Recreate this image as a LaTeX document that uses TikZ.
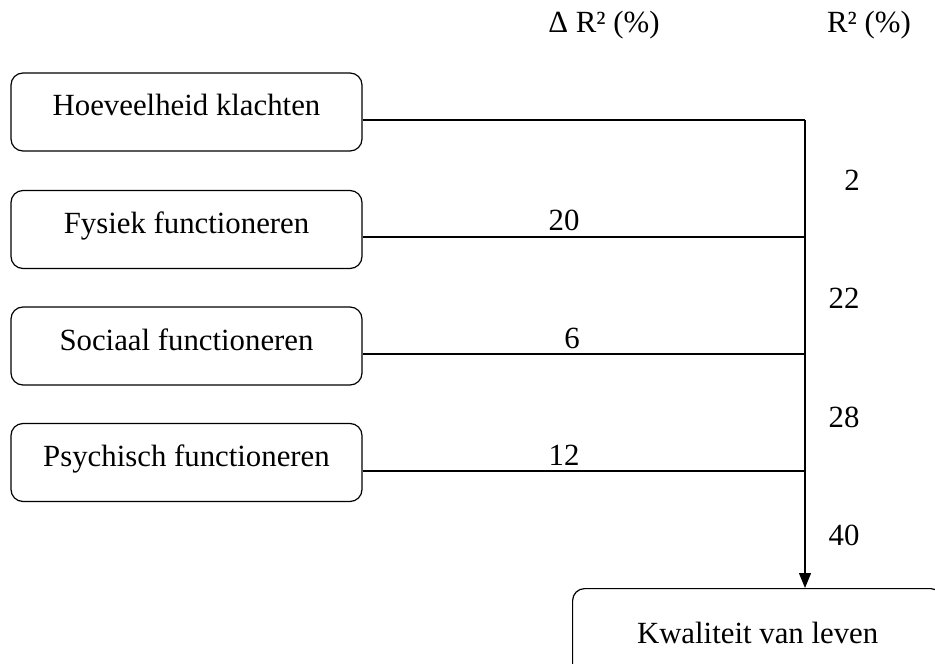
\documentclass[tikz,border=0pt]{standalone}
\usepackage{fontspec}
\setmainfont{Liberation Serif}
\usetikzlibrary{arrows.meta}
\begin{document}
\begin{tikzpicture}[x=0.5pt,y=-0.5pt,
    every node/.style={font=\fontsize{15.4}{18}\selectfont},
    factor/.style={draw,rounded corners=6pt,line width=0.6pt,minimum width=175.5pt,
      minimum height=39pt,text height=10.5pt,text depth=6.5pt,inner sep=0pt},
    link/.style={line width=0.6pt}]
    \useasboundingbox (0,0) rectangle (935,663);
    % constants
    \def\xJoin{805}
    % column heads
    \node (dRhead) at (604,25) {Δ R² (\%)};
    \node (Rhead) at (869,25) {R² (\%)};
    % factor boxes
    \node [factor] (klachten) at (186.5,112) {Hoeveelheid klachten};
    \node [factor] (fysiek) at (186.5,229.5) {Fysiek functioneren};
    \node [factor] (sociaal) at (186.5,346) {Sociaal functioneren};
    \node [factor] (psychisch) at (186.5,462.5) {Psychisch functioneren};
    % outcome box
    \node [factor,anchor=north west,minimum width=185pt,minimum height=50.5pt] (kwaliteit) at (572,588) {Kwaliteit van leven};
    % junctions on the vertical line
    \coordinate (jKlachten) at (\xJoin,120);
    \coordinate (jFysiek) at (\xJoin,237);
    \coordinate (jSociaal) at (\xJoin,354);
    \coordinate (jPsychisch) at (\xJoin,471);
    % connectors
    \draw [link] (jKlachten -| klachten.east) -- (jKlachten);
    \draw [link] (jFysiek -| fysiek.east) -- (jFysiek);
    \draw [link] (jSociaal -| sociaal.east) -- (jSociaal);
    \draw [link] (jPsychisch -| psychisch.east) -- (jPsychisch);
    \draw [link,-{Triangle[width=6pt,length=7.5pt]}] (jKlachten) -- (kwaliteit.north -| jKlachten);
    % delta R2 labels
    \node (dFysiek) at (564,220) {20};
    \node (dSociaal) at (572,338) {6};
    \node (dPsychisch) at (564,455) {12};
    % R2 labels
    \node (rKlachten) at (852,180) {2};
    \node (rFysiek) at (844,298) {22};
    \node (rSociaal) at (844,417) {28};
    \node (rPsychisch) at (844,535) {40};
\end{tikzpicture}
\end{document}
